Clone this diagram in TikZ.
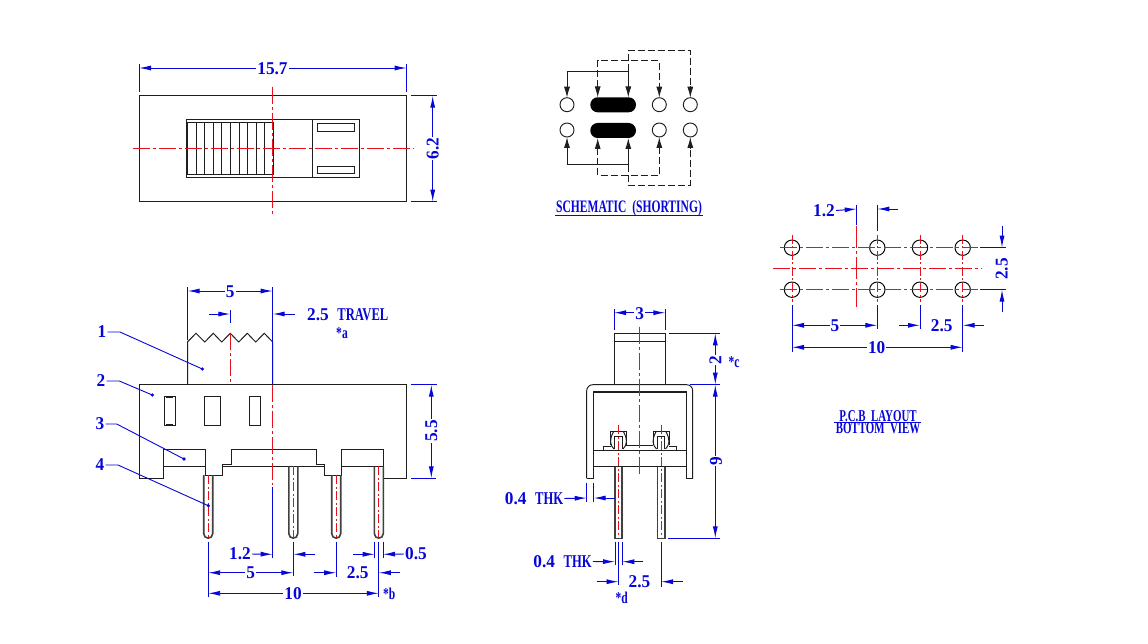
\documentclass[tikz,border=0pt]{standalone}
\usepackage{fontspec}
\usetikzlibrary{arrows.meta}
\newfontfamily\cadfont[FakeStretch=0.70]{Liberation Serif Bold}
\newfontfamily\cadnarrow[FakeStretch=0.66]{Liberation Serif Bold}
\newfontfamily\cadnum[FakeStretch=0.96]{Liberation Serif Bold}
\definecolor{dimblue}{HTML}{0606D8}
\definecolor{cenred}{HTML}{E8101C}
\definecolor{ink}{HTML}{1E1E1E}
\tikzset{
  part/.style={draw=ink,line width=0.95pt,line join=miter},
  pinside/.style={draw=ink!85,line width=1.6pt},
  cen/.style={draw=cenred,line width=0.98pt,dash pattern=on 17pt off 3pt on 3pt off 3pt},
  cenb/.style={draw=cenred,line width=0.98pt,dash pattern=on 9pt off 2.5pt on 2pt off 2.5pt},
  ext/.style={draw=dimblue,line width=0.95pt},
  both/.style={draw=dimblue,line width=0.95pt,{Latex[length=12pt,width=5pt]}-{Latex[length=12pt,width=5pt]}},
  single/.style={draw=dimblue,line width=0.95pt,-{Latex[length=12pt,width=5pt]}},
  lead/.style={draw=dimblue,line width=0.9pt},
  leaddot/.style={fill=dimblue,draw=none},
  lbl/.style={text=dimblue,font=\cadnum\fontsize{18}{18}\selectfont,inner sep=1pt},
  lblw/.style={lbl,fill=white},
  sml/.style={lbl,font=\cadfont\fontsize{16.5}{15}\selectfont},
  sch/.style={draw=ink,line width=0.95pt},
  schd/.style={draw=ink,line width=0.95pt,dash pattern=on 7pt off 3pt},
  scha/.style={-{Latex[length=11pt,width=6pt]}},
}
\begin{document}
\begin{tikzpicture}[x=1pt,y=-1pt]
\useasboundingbox[fill=white] (0,0) rectangle (1148,644);

%% ---------- top view
\draw[part] (139,95.7) rectangle (406.7,201.7);
\draw[part] (186.7,119.7) rectangle (359.3,177.7);
\draw[part] (187.7,122.7) rectangle (273.3,174.3);
\foreach \k in {1,...,9} \draw[part] ({187.7+8.56*\k},122.7) -- ({187.7+8.56*\k},174.3);
\draw[part] (312.3,119.7) -- (312.3,177.7);
\draw[part] (317.3,123.7) rectangle (354.3,131);
\draw[part] (317.3,166.3) rectangle (354.3,173.7);
\draw[cen] (272.7,86.7) -- (272.7,214.3);
\draw[cen] (132.7,148.7) -- (413.3,148.7);
\draw[ext] (139,64) -- (139,91.7);
\draw[ext] (406.7,64) -- (406.7,91.7);
\draw[both] (139,68) -- (406.7,68);
\node[lblw] (d157) at (272.5,68.5) {15.7};
\draw[ext] (410.7,95.7) -- (437.3,95.7);
\draw[ext] (410.7,201.7) -- (437.3,201.7);
\draw[both] (432.7,95.7) -- (432.7,201.7);
\node[lblw,rotate=90] (d62) at (432.7,148.5) {6.2};

%% ---------- schematic
\foreach \cx in {567,659.3,690.3}{
  \draw[sch] (\cx,104.7) circle[radius=7];
  \draw[sch] (\cx,130) circle[radius=7];
}
\fill[black,rounded corners=7.4pt] (590.3,97.3) rectangle (636,112.3);
\fill[black,rounded corners=7.4pt] (590.3,123) rectangle (636,138);
\draw[sch,scha] (628.3,71) -- (567,71) -- (567,97.7);
\draw[sch,scha] (628.3,71) -- (628.3,97.5);
\draw[schd] (628.3,71) -- (628.3,50.3) -- (690.3,50.3) -- (690.3,87);
\draw[sch,scha] (690.3,86) -- (690.3,97.7);
\draw[schd] (597.7,87) -- (597.7,60.7) -- (659.3,60.7) -- (659.3,87);
\draw[sch,scha] (597.7,86) -- (597.7,97.5);
\draw[sch,scha] (659.3,86) -- (659.3,97.7);
\draw[sch,scha] (628.3,164.7) -- (567,164.7) -- (567,137);
\draw[sch,scha] (628.3,164.7) -- (628.3,138);
\draw[schd] (628.3,164.7) -- (628.3,185) -- (690.3,185) -- (690.3,148);
\draw[sch,scha] (690.3,149) -- (690.3,137);
\draw[schd] (597.7,148) -- (597.7,175) -- (659.3,175) -- (659.3,148);
\draw[sch,scha] (597.7,149) -- (597.7,138);
\draw[sch,scha] (659.3,149) -- (659.3,137);
\node[lbl,font=\cadnarrow\fontsize{17.5}{18}\selectfont] (schem) at (629,208.5) {SCHEMATIC\ \ (SHORTING)};
\draw[ext] (555,215.5) -- (703,215.5);

%% ---------- side view
\draw[part] (187.7,384.7) -- (187.7,341.7) -- (196,333.3) -- (204.7,342) -- (213.3,333.3) -- (221.7,342) -- (230.3,333.3) -- (238.7,342) -- (247.3,333.3) -- (255.7,342) -- (264.3,333.3) -- (272.7,342) -- (272.7,384.7);
\draw[part] (163.7,478.3) -- (139,478.3) -- (139,384.7) -- (406.7,384.7) -- (406.7,478.3) -- (383.7,478.3);
\draw[part] (164.3,396.7) rectangle (175,425.7);
\draw[part] (166,397.7) -- (173.3,397.7);
\draw[part] (166,424.7) -- (173.3,424.7);
\draw[part] (204.3,396.7) rectangle (220.3,425.7);
\draw[part] (249.3,396.7) rectangle (260.7,425.7);
\draw[part] (163.7,478.3) -- (163.7,449.7) -- (205.7,449.7) -- (205.7,475) -- (222.3,475) -- (222.3,464.3) -- (231,464.3) -- (231,449.7) -- (316.3,449.7) -- (316.3,464.3) -- (324.7,464.3) -- (324.7,475) -- (341.7,475) -- (341.7,449.7) -- (383.7,449.7) -- (383.7,478.3);
\draw[part] (163.7,466.3) -- (205.7,466.3);
\draw[part] (222.3,466.3) -- (324.7,466.3);
\draw[part] (341.7,466.3) -- (383.7,466.3);
\foreach \px/\pt in {208.2/475,293.3/466.3,336.2/475,378.8/466.3}{
  \draw[pinside] (\px-4.5,\pt) -- (\px-4.5,533.5) .. controls (\px-4.5,539.7) and (\px+4.5,539.7) .. (\px+4.5,533.5) -- (\px+4.5,\pt);
  \draw[cenb] (\px,\pt) -- (\px,537.5);
}
\draw[cen] (230.3,333.3) -- (230.3,384.7);
\draw[cen] (272.7,384.7) -- (272.7,485);
\draw[ext] (272.7,486.7) -- (272.7,558);
%% side dims
\draw[ext] (187.7,287.3) -- (187.7,340);
\draw[ext] (272.7,287.3) -- (272.7,384);
\draw[both] (187.7,291) -- (272.7,291);
\node[lblw] (d5top) at (230.3,292) {5};
\draw[single] (209,314) -- (230.3,314);
\draw[ext] (230.3,310) -- (230.3,323);
\draw[single] (295,314) -- (272.7,314);
\node[lbl,anchor=west] (travel) at (306,314.5) {2.5\ \ {\cadfont TRAVEL}};
\node[sml] (stara) at (342,333.5) {*a};
\draw[ext] (410.7,384.7) -- (437,384.7);
\draw[ext] (411,478.3) -- (436,478.3);
\draw[both] (431.3,384.7) -- (431.3,478.3);
\node[lblw,rotate=90] (d55) at (431.3,431) {5.5};
%% leaders
\node[lbl] (n1) at (102,332) {1};
\draw[lead] (n1.east) -- (120,332) -- (202.3,369);
\fill[leaddot] (202.3,369) circle[radius=1.8];
\node[lbl] (n2) at (101,381) {2};
\draw[lead] (n2.east) -- (119.3,381) -- (152.3,395);
\fill[leaddot] (152.3,395) circle[radius=1.8];
\node[lbl] (n3) at (100,424) {3};
\draw[lead] (n3.east) -- (116.7,424) -- (184,459);
\fill[leaddot] (184,459) circle[radius=1.8];
\node[lbl] (n4) at (100,465) {4};
\draw[lead] (n4.east) -- (118,465) -- (208.3,505.7);
\fill[leaddot] (208.3,505.7) circle[radius=1.8];
%% bottom dims
\draw[ext] (293.3,541.7) -- (293.3,576);
\draw[ext] (208.2,541.7) -- (208.2,596.7);
\draw[ext] (336.2,541.7) -- (336.2,577);
\draw[ext] (378.8,541.7) -- (378.8,596.7);
\draw[ext] (374.7,541.7) -- (374.7,558);
\draw[ext] (383,541.7) -- (383,558);
\node[lbl] (d12a) at (240,554) {1.2};
\draw[single] (d12a.east) -- (272.7,554.3);
\draw[single] (315,554.3) -- (293.3,554.3);
\node[lbl] (d05) at (416,554) {0.5};
\draw[single] (353.3,554.3) -- (374.7,554.3);
\draw[single] (d05.west) -- (383,554.3);
\draw[both] (208.2,572.7) -- (293.3,572.7);
\node[lblw] (d5a) at (250.7,573) {5};
\draw[single] (314.3,572.7) -- (336.2,572.7);
\draw[single] (400,572.7) -- (378.8,572.7);
\node[lbl] (d25a) at (357.7,573) {2.5};
\draw[both] (208.2,593.3) -- (378.8,593.3);
\node[lblw] (d10a) at (293,593.5) {10};
\node[sml] (starb) at (389.3,594) {*b};

%% ---------- front view
\draw[part] (614,384.7) -- (614,333.3) -- (665.3,333.3) -- (665.3,384.7);
\draw[part] (614,341.7) -- (665.3,341.7);
\draw[part,rounded corners=6pt] (586.7,478.3) -- (586.7,384.7) -- (692.7,384.7) -- (692.7,478.3);
\draw[part] (586.7,478.3) -- (593.7,478.3);
\draw[part] (686,478.3) -- (692.7,478.3);
\draw[part] (593.7,478.3) -- (593.7,391.7) -- (686,391.7) -- (686,478.3);
\draw[draw=ink,line width=1.8pt] (593.7,391.7) -- (686,391.7);
\draw[part] (593.7,450) -- (686,450);
\draw[part] (593.7,466.7) -- (686,466.7);
\draw[part] (603.3,450) -- (603.3,446) -- (611,446);
\draw[part] (676.7,450) -- (676.7,446) -- (668.7,446);
\draw[part] (626,445.3) -- (652.7,445.3);
\foreach \cx in {618.5,661}{
  \draw[part] (\cx-8,445) -- (\cx-8,431.7) -- (\cx+8,431.7) -- (\cx+8,445);
  \draw[part] (\cx-3.7,449) -- (\cx-3.7,436) -- (\cx+3.7,436) -- (\cx+3.7,449);
  \draw[part] (\cx-5,431.7) .. controls (\cx-9.5,440) and (\cx-8.5,445) .. (\cx-4.5,449);
  \draw[part] (\cx+5,431.7) .. controls (\cx+9.5,440) and (\cx+8.5,445) .. (\cx+4.5,449);
  \draw[pinside] (\cx-3.7,466.7) -- (\cx-3.7,538.3) -- (\cx+3.7,538.3) -- (\cx+3.7,466.7);
  \draw[cenb] (\cx,425) -- (\cx,537);
}
\draw[cen] (639.7,326.7) -- (639.7,475);
\draw[ext] (614,309) -- (614,330);
\draw[ext] (665.3,309) -- (665.3,330);
\draw[both] (614,312.7) -- (665.3,312.7);
\node[lblw] (d3) at (639.7,313.5) {3};
\draw[ext] (669,333.3) -- (720,333.3);
\draw[ext] (690,384.7) -- (720,384.7);
\draw[ext] (668.3,538.3) -- (720,538.3);
\draw[both] (715.3,333.3) -- (715.3,384.7);
\draw[both] (715.3,384.7) -- (715.3,538.3);
\node[lblw,rotate=90] (d2) at (715.3,360) {2};
\node[lblw,rotate=90] (d9) at (716,461) {9};
\node[sml] (starc) at (734,362) {*c};
\draw[ext] (586.7,482.7) -- (586.7,502.3);
\draw[ext] (593.7,482.7) -- (593.7,502.3);
\node[lbl] (thk1) at (534,498.5) {0.4\ \ {\cadfont THK}};
\draw[single] (thk1.east) -- (586.7,498);
\draw[single] (615,498) -- (593.7,498);
\draw[ext] (615,541.7) -- (615,565);
\draw[ext] (618.5,541.7) -- (618.5,585);
\draw[ext] (622.3,541.7) -- (622.3,565);
\node[lbl] (thk2) at (562.5,561.5) {0.4\ \ {\cadfont THK}};
\draw[single] (thk2.east) -- (615,561.7);
\draw[single] (643.3,561.7) -- (622.3,561.7);
\draw[ext] (661,541.7) -- (661,586.7);
\draw[single] (596.7,581.7) -- (618.5,581.7);
\draw[single] (682.7,581.7) -- (661,581.7);
\node[lbl] (d25b) at (639.5,581.5) {2.5};
\node[sml] (stard) at (621.7,598) {*d};

%% ---------- PCB layout
\foreach \cx in {792,877.3,920,962.7}{
  \draw[draw=black,line width=0.95pt] (\cx,247.7) circle[radius=7.7];
  \draw[draw=black,line width=0.95pt] (\cx,289.7) circle[radius=7.7];
  \draw[cenb] (\cx,235) -- (\cx,301.7);
}
\draw[cen] (780,247.7) -- (978.3,247.7);
\draw[cen] (780,289.7) -- (978.3,289.7);
\draw[cen] (773.3,268.7) -- (981.7,268.7);
\draw[cen,dash pattern=on 22pt off 3pt on 3pt off 3pt] (856.7,226) -- (856.7,307.3);
\draw[ext] (856.7,205) -- (856.7,225);
\draw[ext] (877.3,205) -- (877.3,230.7);
\node[lbl] (d12b) at (824,210.5) {1.2};
\draw[single] (d12b.east) -- (856.7,209);
\draw[single] (898.3,209) -- (877.3,209);
\draw[ext] (980,247.7) -- (1006,247.7);
\draw[ext] (980,289.7) -- (1006,289.7);
\draw[single] (1002,226) -- (1002,247.7);
\draw[single] (1002,311.7) -- (1002,289.7);
\node[lbl,rotate=90] (d25c) at (1001.7,269) {2.5};
\draw[ext] (792,305) -- (792,351.7);
\draw[ext] (877.3,305) -- (877.3,329);
\draw[ext] (920,305) -- (920,329);
\draw[ext] (962.7,305) -- (962.7,351.7);
\draw[both] (792,325.3) -- (877.3,325.3);
\node[lblw] (d5b) at (835,325.5) {5};
\draw[single] (899,325.3) -- (920,325.3);
\draw[single] (984,325.3) -- (962.7,325.3);
\node[lbl] (d25d) at (941.7,326) {2.5};
\draw[both] (792,347.3) -- (962.7,347.3);
\node[lblw] (d10b) at (876.7,347.5) {10};
\node[lbl,align=center,font=\cadnarrow\fontsize{16.5}{12}\selectfont] (pcb) at (878,422) {P.C.B\ \ LAYOUT\\BOTTOM\ \ VIEW};
\draw[ext] (834,422.7) -- (921,422.7);
\end{tikzpicture}
\end{document}
